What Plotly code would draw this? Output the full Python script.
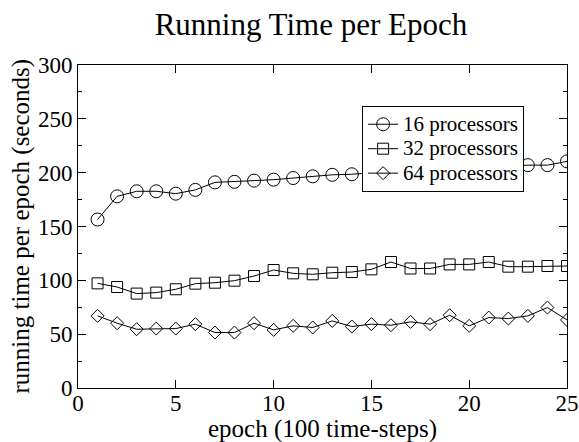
import plotly.graph_objects as go

epochs = list(range(1, 26))
p16 = [156.5, 178, 182.7, 182.7, 180.5, 184, 191, 191.5, 192.6, 193.5, 195, 196.6, 198,
       198.5, 200, 201, 202, 203, 204, 204.5, 205, 206, 207, 207, 210.5]
p32 = [97.2, 93.8, 87.7, 88.6, 91.7, 96.9, 97.8, 99.7, 104, 109.6, 106.5, 105.6, 107.1,
       107.7, 110.2, 117, 111, 111, 114.8, 114.8, 117, 112.7, 112.7, 113.3, 113.3]
p64 = [67, 60.2, 54.6, 55.2, 55.2, 59.3, 51.5, 51.5, 60.2, 54, 57.7, 56.2, 62.3,
       57.1, 59.3, 58.3, 61.4, 59.3, 67.6, 57.7, 65.4, 64.5, 67, 74.7, 63.2]
names = ["16 processors", "32 processors", "64 processors"]
x_title = "epoch (100 time-steps)"
y_title = "running time per epoch (seconds)"

FONT = "Liberation Serif, Times New Roman, serif"

fig = go.Figure()
for name, ys, sym, sz in [(names[0], p16, "circle-open", 13),
                          (names[1], p32, "square-open", 11),
                          (names[2], p64, "diamond-open", 10)]:
    fig.add_trace(go.Scatter(
        x=epochs, y=ys, name='<span style="font-size:21px">' + name + '</span>',
        mode="lines+markers",
        line=dict(color="black", width=1),
        marker=dict(symbol=sym, size=sz, color="black", line=dict(width=1, color="black")),
    ))

fig.update_layout(
    width=579, height=442,
    margin=dict(l=78, r=12, t=65, b=54, autoexpand=False),
    paper_bgcolor="white", plot_bgcolor="white",
    font=dict(family=FONT, color="black", size=23),
    title=dict(text="Running Time per Epoch", x=0.537, xanchor="center", y=0.945, yanchor="middle",
               font=dict(size=31, family=FONT, color="black")),
    showlegend=True,
    legend=dict(x=0.581, y=0.873, xanchor="left", yanchor="top",
                bgcolor="white", bordercolor="black", borderwidth=1,
                font=dict(size=16.5, family=FONT, color="black"),
                tracegroupgap=0, itemwidth=30),
    annotations=[
        dict(text=x_title, xref="paper", yref="paper", x=0.5, y=0, xanchor="center",
             yanchor="middle", yshift=-41, showarrow=False,
             font=dict(size=25, family=FONT, color="black")),
        dict(text=y_title, xref="paper", yref="paper", x=0, y=0.5, xanchor="center",
             yanchor="middle", xshift=-58, textangle=-90, showarrow=False,
             font=dict(size=25, family=FONT, color="black")),
    ],
)
fig.update_xaxes(
    range=[0, 25], tickmode="array", tickvals=[0, 5, 10, 15, 20, 25],
    ticks="inside", ticklen=8, tickcolor="black", showline=True, linecolor="black",
    linewidth=1, mirror="ticks", showgrid=False, zeroline=False, automargin=False,
    tickfont=dict(size=23, family=FONT), ticklabelstandoff=-6,
)
fig.update_yaxes(
    range=[0, 300], tickmode="array", tickvals=[0, 50, 100, 150, 200, 250, 300],
    ticks="inside", ticklen=8, tickcolor="black", showline=True, linecolor="black",
    linewidth=1, mirror="ticks", showgrid=False, zeroline=False, automargin=False,
    minor=dict(ticks="inside", ticklen=4, tickcolor="black", dtick=25, showgrid=False),
    tickfont=dict(size=23, family=FONT),
)

fig.write_html("out.html", config={"displayModeBar": False},
               post_script="document.body.style.margin='0';document.body.style.overflow='hidden';")
